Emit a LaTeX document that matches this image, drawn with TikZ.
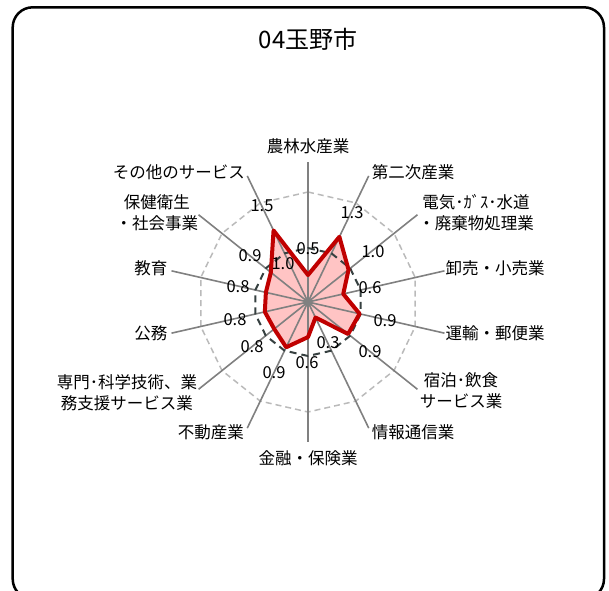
\documentclass[tikz,border=0pt]{standalone}
\usepackage{fontspec}
\setmainfont{Noto Sans CJK JP}
\usetikzlibrary{calc}

\definecolor{axisgray}{HTML}{808080}
\definecolor{gridgray}{HTML}{BABABA}
\definecolor{datared}{HTML}{C00000}
\definecolor{datapink}{HTML}{FFC4C4}
\definecolor{refdark}{HTML}{364040}

% values of the 14 sectors, clockwise from the top
\def\radarvals{0.5,1.34,0.96,0.67,0.98,0.95,0.32,0.65,0.93,0.8,0.82,0.8,0.88,1.47}

\begin{document}
\begin{tikzpicture}[x=1pt, y=1pt,
  lbl/.style={font=\fontsize{16.5}{21}\selectfont, align=center, inner sep=0pt},
  val/.style={font=\fontsize{16.5}{18}\selectfont, inner sep=0pt}]
	\useasboundingbox (-308,-288) rectangle (301,302);
	\draw[line width=2.5pt, rounded corners=20pt] (-295.3,-297) rectangle (296,294.7);
	\node[font=\fontsize{24}{28}\selectfont] (title) at (0,263) {04玉野市};
	\coordinate (o) at (0,0);
	\foreach \i in {0,...,13} \coordinate (ax\i) at ({90-\i*360/14}:140);
	% grid
	\draw[gridgray, line width=1.5pt, dash pattern=on 6pt off 4pt] (90:110) \foreach \i in {1,...,13} {-- ({90-\i*360/14}:110)} -- cycle;
	% data area
	\fill[datapink] \foreach \v [count=\i from 0] in \radarvals {\ifnum\i=0 ({90}:{\v*54}) \else -- ({90-\i*360/14}:{\v*54}) \fi} -- cycle;
	\foreach \i in {0,...,13} \draw[axisgray, line width=1.6pt] (o) -- (ax\i);
	\fill[axisgray] (o) circle (4.5);
	\draw[refdark, line width=2pt, dash pattern=on 7pt off 5pt] (90:54) \foreach \i in {1,...,13} {-- ({90-\i*360/14}:54)} -- cycle;
	\draw[datared, line width=4pt, line join=round] \foreach \v [count=\i from 0] in \radarvals {\ifnum\i=0 ({90}:{\v*54}) \else -- ({90-\i*360/14}:{\v*54}) \fi} -- cycle;
	% sector names
	\node[lbl] (agr) at (0,156) {農林水産業};
	\node[lbl] (ind) at (105,130) {第二次産業};
	\node[lbl] (util) at (168,89.5) {電気･ｶﾞｽ･水道\\・廃棄物処理業};
	\node[lbl] (trade) at (187,34) {卸売・小売業};
	\node[lbl] (trans) at (187,-31) {運輸・郵便業};
	\node[lbl] (hotel) at (153,-89) {宿泊･飲食\\サービス業};
	\node[lbl] (info) at (105,-130) {情報通信業};
	\node[lbl] (fin) at (0,-156) {金融・保険業};
	\node[lbl] (estate) at (-97,-130) {不動産業};
	\node[lbl] (prof) at (-181,-90.5) {専門･科学技術、業\\務支援サービス業};
	\node[lbl] (gov) at (-157,-31) {公務};
	\node[lbl] (edu) at (-157,34) {教育};
	\node[lbl] (health) at (-151,89.5) {保健衛生\\・社会事業};
	\node[lbl] (other) at (-129,130) {その他のサービス};
	% value labels
	\node[val] (v0) at (0,53) {0.5};
	\node[val] (v1) at (44,89) {1.3};
	\node[val] (v2) at (65,50) {1.0};
	\node[val] (v3) at (62,14) {0.6};
	\node[val] (v4) at (77,-19) {0.9};
	\node[val] (v5) at (62,-50) {0.9};
	\node[val] (v6) at (20,-41) {0.3};
	\node[val] (v7) at (-1,-61) {0.6};
	\node[val] (v8) at (-34,-71) {0.9};
	\node[val] (v9) at (-56,-45) {0.8};
	\node[val] (v10) at (-73,-18) {0.8};
	\node[val] (v11) at (-70,15) {0.8};
	\node[val] (v12) at (-58,46) {0.9};
	\node[val] (v13) at (-25,38) {1.0};
	\node[val] (v14) at (-46,96) {1.5};
\end{tikzpicture}
\end{document}
